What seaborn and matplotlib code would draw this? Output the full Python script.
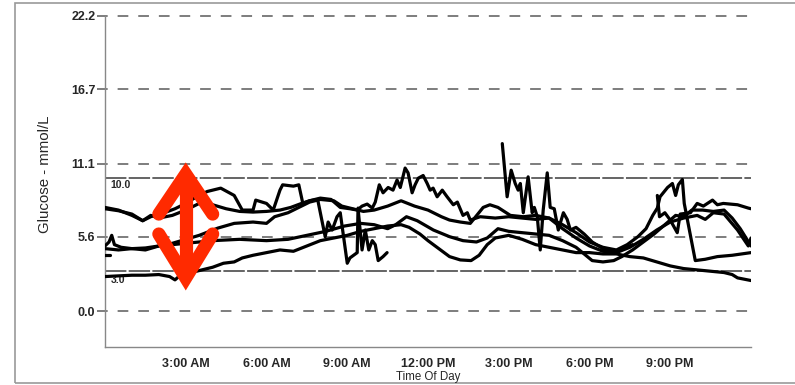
import matplotlib
matplotlib.use('Agg')
import matplotlib.pyplot as plt
import seaborn as sns
import pandas as pd
from matplotlib.patches import Rectangle

# 每日血糖曲线 (小时, mmol/L) —— 从图上读取
day1_hours = [0, 0.5, 1.0, 1.4, 1.8, 2.2, 2.6, 3.0, 3.4, 3.8, 4.3, 4.8, 5.1, 5.5, 5.6, 6.0, 6.25, 6.5, 6.6, 7.0,
              7.2, 7.35, 7.6, 7.9, 8.18, 8.29, 8.44, 8.62, 8.74, 9.0, 9.1, 9.37, 9.4, 9.55, 9.67, 9.8, 9.93, 10.04,
              10.15, 10.33, 10.48]
day1_gluc = [7.8, 7.6, 7.2, 6.8, 7.2, 7.4, 7.7, 8.1, 8.6, 9.0, 9.25, 8.7, 7.6, 7.6, 8.35, 8.1, 7.6, 9.1, 9.5, 9.4,
             9.5, 8.1, 8.3, 8.4, 5.6, 6.7, 6.1, 7.1, 7.4, 3.6, 4.0, 4.4, 7.75, 4.6, 6.1, 4.6, 5.3, 5.0,
             3.8, 4.1, 4.4]
day1b_hours = [14.76, 14.94, 15.09, 15.24, 15.35, 15.43, 15.54, 15.72, 15.87, 15.95, 16.06, 16.17, 16.28, 16.43,
               16.54, 16.69, 16.84, 17.03, 17.17, 17.29, 17.5, 17.8, 18.1, 18.5, 18.9, 19.3, 19.6]
day1b_gluc = [12.6, 8.6, 10.6, 9.6, 9.1, 9.6, 7.4, 10.1, 7.4, 7.8, 7.1, 4.6, 7.6, 10.4,
              7.8, 7.7, 6.1, 7.4, 6.9, 6.1, 6.3, 5.8, 5.2, 4.7, 4.5, 4.7, 5.0]
day1c_hours = [20.52, 20.6, 20.8, 21.0, 21.26, 21.37, 21.75, 22.0, 22.23, 22.57, 22.75, 22.97, 23.5, 23.9, 24.0]
day1c_gluc = [8.7, 7.1, 7.4, 6.85, 5.9, 7.3, 7.4, 8.1, 7.9, 8.35, 8.0, 8.1, 8.0, 7.75, 7.7]

day2_hours = [0, 0.5, 1.0, 1.4, 1.7, 2.0, 2.5, 3.0, 3.5, 4.0, 4.5, 5.0, 5.5, 6.0, 6.5, 6.9, 7.3, 7.6, 8.0, 8.4,
              8.74, 9.1, 9.37, 9.55, 9.74, 9.93, 10.04, 10.19, 10.33, 10.52, 10.7, 10.85, 10.97, 11.15, 11.26,
              11.41, 11.52, 11.64, 11.82, 11.97, 12.08, 12.19, 12.34, 12.53, 12.71, 12.94, 13.09, 13.3, 13.46,
              13.57, 13.94, 14.5, 15.0, 15.5, 16.0, 16.5, 17.0, 17.5, 18.0, 18.5, 19.0, 19.4, 19.8, 20.1, 20.35,
              20.52, 20.62, 20.9, 21.08, 21.2, 21.3, 21.45, 21.52, 21.93, 22.3, 22.75, 23.3, 24.0]
day2_gluc = [7.7, 7.55, 7.3, 6.8, 7.2, 7.0, 7.2, 7.6, 8.1, 8.0, 7.7, 7.5, 7.45, 7.5, 7.6, 7.8, 8.1, 8.3, 8.5, 8.4,
             7.8, 7.7, 7.6, 7.9, 8.05, 7.75, 8.2, 9.5, 8.9, 9.3, 9.1, 9.86, 9.3, 10.76, 10.4,
             8.9, 9.5, 10.0, 10.2, 9.6, 9.1, 9.25, 8.6, 9.1, 8.6, 8.0, 8.2, 7.2, 7.4,
             6.85, 7.1, 7.0, 7.1, 7.0, 6.9, 7.0, 6.5, 5.9, 5.2, 4.8, 4.6, 5.0, 5.6, 6.2, 7.2,
             7.75, 8.6, 9.3, 9.6, 8.7, 9.5, 9.9, 8.1, 3.8, 3.9, 4.1, 4.2, 4.4]

day3_hours = [0, 0.5, 1.0, 1.5, 2.0, 2.5, 3.5, 4.2, 4.8, 5.5, 6.0, 6.3, 6.8, 7.3, 7.6, 8.0, 8.5, 8.8, 9.2, 9.6,
              10.0, 10.5, 11.0, 11.5, 12.0, 12.5, 12.8, 13.2, 13.57, 14.05, 14.3, 14.6, 15.06, 15.54, 16.0,
              16.5, 17.0, 17.5, 18.0, 18.5, 19.0, 19.5, 20.0, 20.5, 21.0, 21.5, 22.0, 22.3, 22.6, 23.0, 23.5,
              23.9, 24.0]
day3_gluc = [4.7, 4.6, 4.7, 4.75, 4.9, 5.1, 5.7, 6.25, 6.6, 6.7, 6.6, 7.1, 7.4, 7.9, 8.2, 8.4, 8.3, 7.9, 7.7, 7.5,
             7.6, 7.9, 8.3, 7.9, 7.6, 7.1, 6.85, 6.7, 6.6, 7.8, 8.0, 7.8, 7.2, 7.1, 7.2,
             7.0, 6.2, 5.5, 4.9, 4.5, 4.4, 4.8, 5.4, 6.1, 6.7, 7.0, 7.2, 6.9, 7.4, 7.3, 6.1,
             4.9, 5.5]

day4_hours = [0, 0.15, 0.25, 0.35, 0.6, 1.0, 1.5, 2.0, 2.5, 3.5, 4.0, 5.0, 6.0, 6.8, 7.5, 8.2, 8.9, 9.5, 10.0,
              10.5, 10.8, 11.2, 11.6, 12.2, 12.8, 13.3, 13.8, 14.2, 14.6, 15.0, 15.5, 16.0, 16.5, 17.0, 17.5,
              17.8, 18.1, 18.5, 18.9, 19.2, 19.6, 20.0, 20.4, 20.8, 21.2, 21.5, 21.8, 22.2, 22.6, 23.0, 23.3,
              23.6, 24.0]
day4_gluc = [4.9, 5.2, 5.7, 5.0, 4.8, 4.7, 4.6, 4.9, 5.0, 5.2, 5.3, 5.4, 5.3, 5.4, 5.7, 6.0, 6.4, 6.6, 6.5,
             6.2, 6.5, 7.1, 6.8, 6.1, 5.6, 5.3, 5.2, 5.5, 6.2, 6.0, 5.9, 5.8, 5.7, 5.3, 4.8,
             4.3, 3.8, 3.7, 3.8, 4.1, 4.6, 5.2, 5.8, 6.5, 7.2, 7.1, 7.6, 7.6, 7.5, 7.6, 7.0,
             6.2, 4.9]

day5_hours = [0, 0.5, 1.0, 1.5, 2.0, 2.4, 2.6, 2.8, 3.2, 3.6, 4.0, 4.4, 4.8, 5.1, 5.5, 6.0, 6.5, 7.0, 7.5, 8.0,
              8.5, 9.0, 9.5, 10.0, 10.5, 11.0, 11.3, 11.7, 12.0, 12.4, 12.8, 13.2, 13.6, 13.9, 14.2, 14.5,
              15.0, 15.5, 16.0, 16.5, 17.0, 17.5, 18.0, 18.5, 19.0, 19.5, 20.0, 20.5, 21.0, 21.5, 22.0, 22.5,
              23.0, 23.3, 23.5, 24.0]
day5_gluc = [2.6, 2.65, 2.7, 2.7, 2.75, 2.6, 2.35, 2.7, 2.9, 3.1, 3.3, 3.6, 3.7, 4.0, 4.2, 4.4, 4.6, 4.5, 4.9, 5.3,
             5.5, 5.7, 6.0, 6.2, 6.4, 6.5, 6.3, 5.8, 5.3, 4.7, 4.1, 3.85, 3.8, 4.2, 5.0, 5.5,
             5.7, 5.4, 5.0, 4.8, 4.6, 4.4, 4.4, 4.3, 4.3, 4.1, 4.0, 3.7, 3.4, 3.2, 3.1, 3.0,
             2.9, 2.75, 2.5, 2.3]

day6_hours = [0, 0.2]
day6_gluc = [4.2, 4.2]

ytick_vals = [0.0, 5.6, 11.1, 16.7, 22.2]
target_vals = [3.0, 10.0]
xtick_hours = [3, 6, 9, 12, 15, 18, 21]
xtick_labels = ['3:00 AM', '6:00 AM', '9:00 AM', '12:00 PM', '3:00 PM', '6:00 PM', '9:00 PM']

sns.set_style('white')
plt.rcParams['font.family'] = ['Liberation Sans', 'DejaVu Sans']

fig = plt.figure(figsize=(7.95, 3.85), dpi=100)
ax = fig.add_axes([105 / 795, 1 - 347 / 385, 646 / 795, 331 / 385])

# 网格虚线
ax.hlines(ytick_vals, -0.3, 24, colors='#5a5a5a', lw=1.1, linestyles=[(0, (7, 6.5))], clip_on=False, zorder=1)
ax.hlines(target_vals, 0, 24, colors='#3a3a3a', lw=1.1, linestyles=[(0, (14, 1.5))], zorder=1)
ax.text(0.2, 9.5, '10.0', fontsize=7.5, fontweight='bold', va='center', zorder=1)
ax.text(0.2, 2.35, '3.0', fontsize=7.5, fontweight='bold', va='center', zorder=1)

traces = [(day1_hours, day1_gluc), (day1b_hours, day1b_gluc), (day1c_hours, day1c_gluc),
          (day2_hours, day2_gluc), (day3_hours, day3_gluc), (day4_hours, day4_gluc),
          (day5_hours, day5_gluc), (day6_hours, day6_gluc)]
for hrs, vals in traces:
    df = pd.DataFrame({'hour': hrs, 'glucose': vals})
    sns.lineplot(data=df, x='hour', y='glucose', ax=ax, color='black', lw=2.3,
                 sort=False, estimator=None, zorder=3)

# 红色双箭头
red = '#ff2a00'
ax.plot([3.0, 3.0], [2.8, 10.1], color=red, lw=9.5, solid_capstyle='butt', zorder=10)
ax.plot([2.0, 3.0, 4.0], [7.3, 10.3, 7.3], color=red, lw=9.5,
        solid_joinstyle='miter', solid_capstyle='round', zorder=10)
ax.plot([2.0, 3.0, 4.0], [5.8, 2.5, 5.8], color=red, lw=9.5,
        solid_joinstyle='miter', solid_capstyle='round', zorder=10)

ax.set_xlim(0, 24)
ax.set_ylim(-2.7, 22.2)
ax.set_xticks(xtick_hours)
ax.set_xticklabels(xtick_labels, fontsize=9, fontweight='bold')
ax.set_xticks(range(1, 24), minor=True)
ax.tick_params(axis='x', which='major', direction='in', length=7, color='#888888', pad=8)
ax.tick_params(axis='x', which='minor', direction='in', length=3.5, color='#888888')
ax.set_yticks(ytick_vals)
ax.set_yticklabels(['%.1f' % v for v in ytick_vals], fontsize=9, fontweight='bold')
ax.tick_params(axis='y', length=0, pad=7)
ax.set_xlabel('')
ax.set_ylabel('')
for s in ['top', 'right']:
    ax.spines[s].set_visible(False)
for s in ['left', 'bottom']:
    ax.spines[s].set_color('#888888')
    ax.spines[s].set_linewidth(1)

fig.text(45 / 795, 1 - 174 / 385, 'Glucose - mmol/L', rotation=90, ha='center', va='center', fontsize=10.8)
fig.text(428 / 795, 1 - 377 / 385, 'Time Of Day', ha='center', va='center', fontsize=8.3)

fig.patches.append(Rectangle((15 / 795, 1 - 383 / 385), 1, 380 / 385, transform=fig.transFigure,
                             fill=False, edgecolor='#999999', lw=1.2))

fig.savefig('out.png', dpi=100)
